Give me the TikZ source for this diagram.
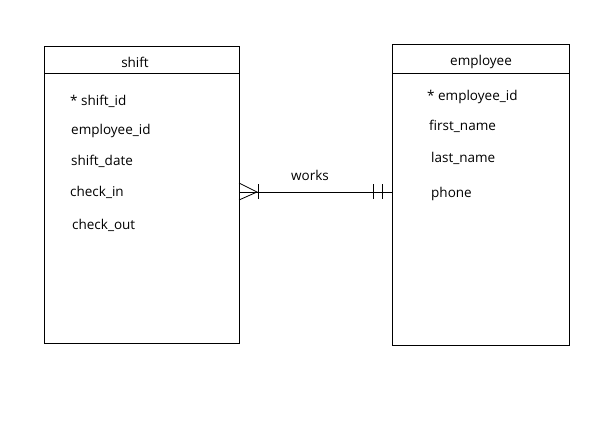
\documentclass[tikz,border=0pt]{standalone}
\usepackage{fontspec}
\setmainfont{Open Sans}
\begin{document}
\begin{tikzpicture}[x=1pt,y=-1pt,
  entity/.style={draw=black, line width=0.8pt, inner sep=0pt, anchor=north west},
  attr/.style={anchor=base west, inner sep=0pt, font=\fontsize{13.5}{15}\selectfont},
  title/.style={anchor=base, inner sep=0pt, font=\fontsize{13.5}{15}\selectfont},
  rel/.style={line width=0.8pt}]
\useasboundingbox (0,0) rectangle (601,429);
% entities
\node[entity, minimum width=195pt, minimum height=297pt] (shift) at (44,46) {};
\node[entity, minimum width=177pt, minimum height=301pt] (employee) at (392,44) {};
\draw[rel] (shift.north west |- 0,73) -- (shift.north east |- 0,73);
\draw[rel] (employee.north west |- 0,73) -- (employee.north east |- 0,73);
\node[title] (tshift) at (135,67) {shift};
\node[title] (temp) at (481,65) {employee};
% shift attributes
\node[attr] (s1) at (70,105) {* shift\_id};
\node[attr] (s2) at (71,134) {employee\_id};
\node[attr] (s3) at (71,165) {shift\_date};
\node[attr] (s4) at (70,196) {check\_in};
\node[attr] (s5) at (72,229) {check\_out};
% employee attributes
\node[attr] (e1) at (427,100) {* employee\_id};
\node[attr] (e2) at (429,130) {first\_name};
\node[attr] (e3) at (431,162) {last\_name};
\node[attr] (e4) at (431,197) {phone};
% relationship
\coordinate (lvl) at (0,192);
\coordinate (cfA) at (shift.east |- lvl);
\coordinate (cfB) at (employee.west |- lvl);
\draw[rel] (cfA) -- (cfB);
\node[title] (works) at (310,180) {works};
% crow's foot (many)
\draw[rel] (239,183) -- (257,192) -- (239,200);
\draw[rel] (258,184) -- (258,199);
% one and only one
\draw[rel] (373,184) -- (373,199);
\draw[rel] (382,184) -- (382,199);
\end{tikzpicture}
\end{document}
